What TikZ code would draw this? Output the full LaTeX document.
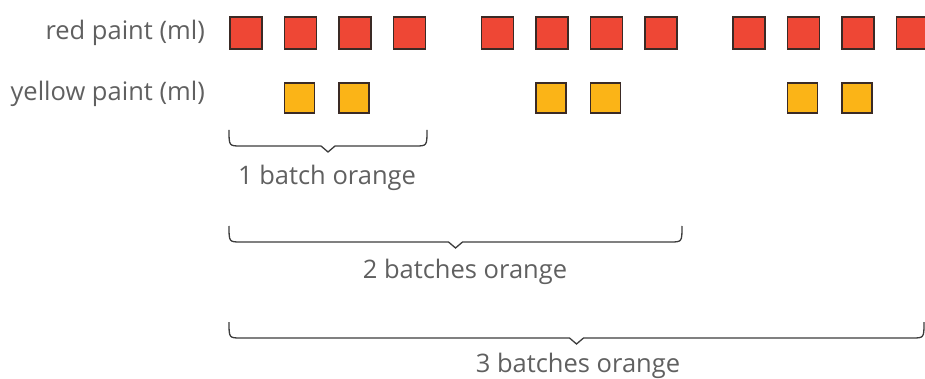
\documentclass[tikz,border=0pt]{standalone}
\usepackage{fontspec}
\setmainfont{Open Sans}
\definecolor{paintred}{HTML}{EE4735}
\definecolor{paintyellow}{HTML}{FBB417}
\definecolor{edgedark}{HTML}{3A2A25}
\definecolor{labelgray}{HTML}{606060}
\definecolor{bracegray}{HTML}{3C3C3C}
\tikzset{
  redsq/.style={draw=edgedark, line width=1.6pt, fill=paintred, minimum size=32pt, inner sep=0pt, anchor=north west},
  yelsq/.style={draw=edgedark, line width=1.6pt, fill=paintyellow, minimum size=30pt, inner sep=0pt, anchor=north west},
  rowlabel/.style={text=labelgray, font=\fontsize{25.5}{29}\selectfont, anchor=east, inner sep=0pt},
  bracelabel/.style={text=labelgray, font=\fontsize{25.5}{29}\selectfont, inner sep=0pt},
  bracestyle/.style={draw=bracegray, line width=1.3pt},
}
\newcommand\mybrace[4]{%
  \pgfmathsetmacro\bmid{(#1+#2)/2}%
  \draw[bracestyle] (#1,#3) .. controls (#1,#4) .. (#1+12,#4) -- (\bmid-7,#4) -- (\bmid,#4+6) -- (\bmid+7,#4) -- (#2-12,#4) .. controls (#2,#4) .. (#2,#3);%
}
\begin{document}
\begin{tikzpicture}[x=1pt,y=-1pt]
\useasboundingbox (0,0) rectangle (925,379);
\node[rowlabel] (lred) at (205,33) {red paint (ml)};
\node[rowlabel] (lyel) at (205,94) {yellow paint (ml)};
\foreach \g in {0,1,2}{
  \foreach \k in {0,1,2,3}{
    \pgfmathsetmacro\xx{229+\g*251.5+\k*54.6}
    \node[redsq] (r\g\k) at (\xx,16) {};
  }
  \foreach \k in {1,2}{
    \pgfmathsetmacro\xx{229+\g*251.5+\k*54.6}
    \node[yelsq] (y\g\k) at (\xx,82) {};
  }
}
\mybrace{229}{427}{130}{146}
\mybrace{229}{682}{226}{242}
\mybrace{229}{924}{322}{338}
\node[bracelabel] (b1) at (327,178) {1 batch orange};
\node[bracelabel] (b2) at (465,272) {2 batches orange};
\node[bracelabel] (b3) at (578,366) {3 batches orange};
\end{tikzpicture}
\end{document}
